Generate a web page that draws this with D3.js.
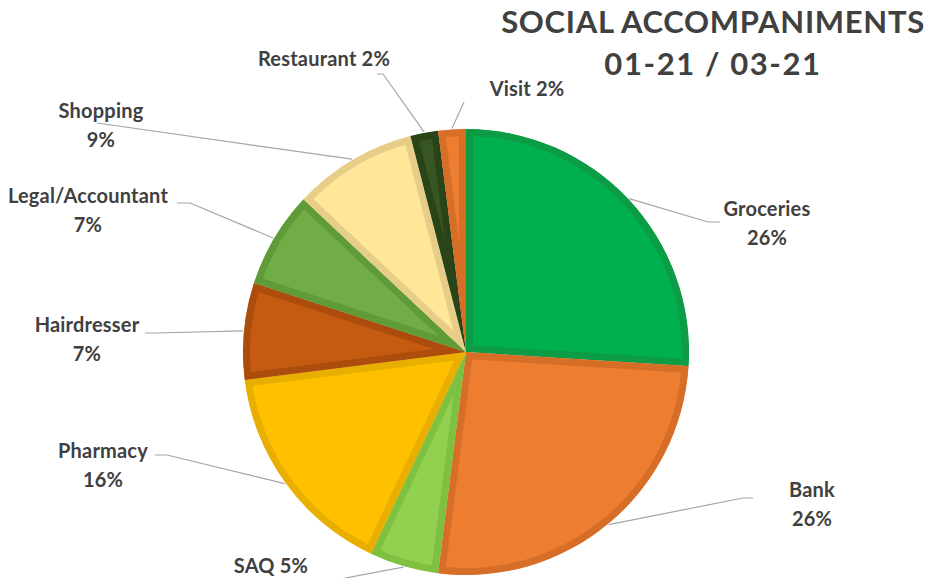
<!DOCTYPE html>
<html>
<head>
<meta charset="utf-8">
<script src="https://cdn.jsdelivr.net/npm/d3@7"></script>
<style>
  html, body { margin: 0; padding: 0; background: #fff; }
  text { font-family: Lato, "Open Sans", sans-serif; font-weight: 700; fill: #404040; }
</style>
</head>
<body>
<div id="chart"></div>
<script>
// slices, clockwise from 12 o'clock
const categories = ["Groceries", "Bank", "SAQ", "Pharmacy", "Hairdresser", "Legal/Accountant", "Shopping", "Restaurant", "Visit"];
const shares = [26, 26, 5, 16, 7, 7, 9, 2, 2];
const fills = ["#00B050", "#ED7D31", "#92D050", "#FFC000", "#C55A11", "#70AD47", "#FFE699", "#375623", "#ED7D31"];
const borders = ["#0B9C45", "#D76E27", "#7EC040", "#E8AE00", "#AD4D0D", "#5F9B38", "#E6CE88", "#2A4419", "#D76E27"];
const titleLines = ["SOCIAL ACCOMPANIMENTS", "01-21 / 03-21"];

// label layout: text centre, first baseline, two lines or one, leader start + elbow direction
const labelLayout = {
  "Groceries":        { x: 767, y: 216, split: true,  lx: 720, ly: 222, elbow: -12 },
  "Bank":             { x: 812, y: 497, split: true,  lx: 753, ly: 498, elbow: -10 },
  "SAQ":              { x: 271, y: 573, split: false, lx: 340, ly: 579, elbow: 0 },
  "Pharmacy":         { x: 103, y: 458, split: true,  lx: 155, ly: 455, elbow: 12 },
  "Hairdresser":      { x: 87,  y: 332, split: true,  lx: 145, ly: 333, elbow: 10 },
  "Legal/Accountant": { x: 88,  y: 203, split: true,  lx: 177, ly: 203, elbow: 13 },
  "Shopping":         { x: 101, y: 118, split: true,  lx: 97,  ly: 123, elbow: 0 },
  "Restaurant":       { x: 324, y: 66,  split: false, lx: 377, ly: 74,  elbow: 6 },
  "Visit":            { x: 527, y: 96,  split: false, lx: 464, ly: 102, elbow: 0 }
};

const width = 928, height = 578;
const cx = 466, cy = 352, radius = 223;

const data = categories.map((c, i) => ({ name: c, value: shares[i], fill: fills[i], border: borders[i] }));

const svg = d3.select("#chart").append("svg")
  .attr("width", width)
  .attr("height", height);

const pie = d3.pie().sort(null).value(d => d.value);
const arc = d3.arc().innerRadius(0).outerRadius(radius);
const arcs = pie(data);

const g = svg.append("g").attr("transform", `translate(${cx},${cy})`);

// clip each slice to itself so the darker stroke sits inside
const defs = svg.append("defs");
arcs.forEach((a, i) => {
  defs.append("clipPath").attr("id", "clip-" + i)
    .append("path").attr("d", arc(a));
});

g.selectAll(".slice")
  .data(arcs)
  .enter()
  .append("path")
  .attr("class", "slice")
  .attr("d", arc)
  .attr("clip-path", (d, i) => `url(#clip-${i})`)
  .attr("fill", d => d.data.fill)
  .attr("stroke", d => d.data.border)
  .attr("stroke-width", 14)
  .attr("stroke-linejoin", "round");

// leader lines
const edge = d3.arc().innerRadius(radius + 1).outerRadius(radius + 1);
arcs.forEach(a => {
  const L = labelLayout[a.data.name];
  const c = edge.centroid(a);
  const pts = [[L.lx, L.ly]];
  if (L.elbow) pts.push([L.lx + L.elbow, L.ly]);
  pts.push([c[0] + cx, c[1] + cy]);
  svg.append("path")
    .attr("d", d3.line()(pts))
    .attr("fill", "none")
    .attr("stroke", "#A6A6A6")
    .attr("stroke-width", 1.2);
});

// labels
arcs.forEach(a => {
  const L = labelLayout[a.data.name];
  const t = svg.append("text")
    .attr("text-anchor", "middle")
    .attr("font-size", 20)
    .attr("letter-spacing", 0.2);
  if (L.split) {
    t.append("tspan").attr("x", L.x).attr("y", L.y).text(a.data.name);
    t.append("tspan").attr("x", L.x).attr("y", L.y + 29).text(a.data.value + "%");
  } else {
    t.append("tspan").attr("x", L.x).attr("y", L.y).text(a.data.name + " " + a.data.value + "%");
  }
});

// title
svg.append("text")
  .attr("x", 713).attr("y", 33)
  .attr("text-anchor", "middle")
  .attr("font-size", 31)
  .attr("letter-spacing", 0.7)
  .text(titleLines[0]);
svg.append("text")
  .attr("x", 713).attr("y", 75)
  .attr("text-anchor", "middle")
  .attr("font-size", 31)
  .attr("letter-spacing", 1.6)
  .text(titleLines[1]);
</script>
</body>
</html>
